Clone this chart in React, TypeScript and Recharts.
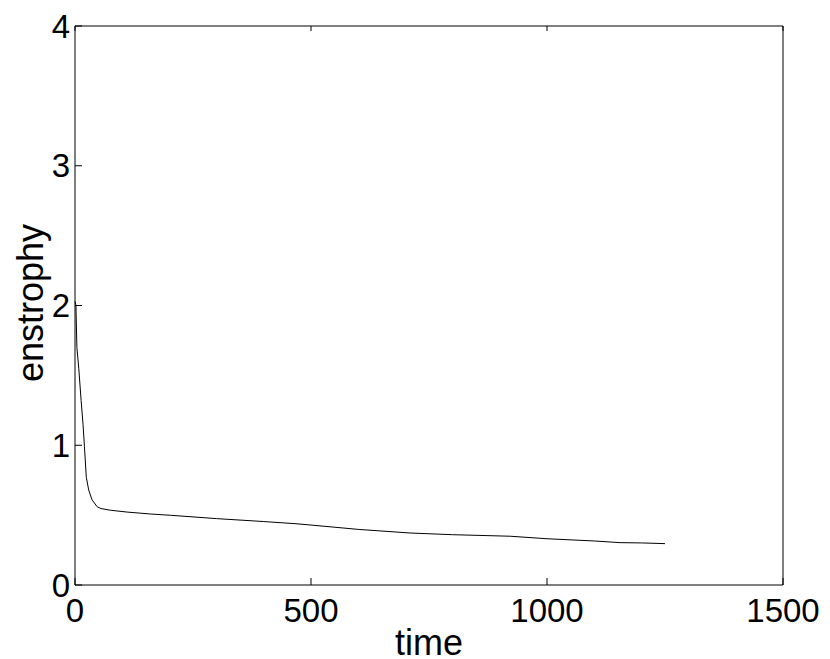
import React from 'react';
import { LineChart, Line, XAxis, YAxis } from 'recharts';

const timeValues = [0, 2, 4, 8, 13, 17, 20, 24, 29, 36, 47, 55, 75, 110, 160, 202, 300, 400, 466, 500, 600, 710, 800, 922, 1000, 1100, 1155, 1200, 1250];
const enstrophyValues = [2.03, 2.0, 1.7, 1.55, 1.32, 1.15, 0.99, 0.77, 0.68, 0.61, 0.56, 0.547, 0.535, 0.522, 0.508, 0.499, 0.475, 0.454, 0.439, 0.429, 0.398, 0.372, 0.36, 0.349, 0.331, 0.315, 0.303, 0.301, 0.296];
const xTicks = [0, 500, 1000, 1500];
const yTicks = [0, 1, 2, 3, 4];

const data = timeValues.map((t, i) => ({ time: t, enstrophy: enstrophyValues[i] }));

const FONT = '"Liberation Sans", Arial, Helvetica, sans-serif';
const TICK_FS = 33;
const LABEL_FS = 36;
const TL = 7;

const LeftTick = (props: any) => {
  const { x, y, payload } = props;
  return (
    <g>
      <text x={x} y={y} dy="0.355em" textAnchor="end" fontSize={TICK_FS} fontFamily={FONT} fill="#000">
        {payload.value}
      </text>
      <line x1={x + 5} x2={x + 5 + TL} y1={y} y2={y} stroke="#000" strokeWidth={1} />
    </g>
  );
};

const BottomTick = (props: any) => {
  const { x, y, payload } = props;
  return (
    <g>
      <text x={x} y={y} dy="0.71em" textAnchor="middle" fontSize={TICK_FS} fontFamily={FONT} fill="#000">
        {payload.value}
      </text>
      <line x1={x} x2={x} y1={y - 14} y2={y - 14 - TL} stroke="#000" strokeWidth={1} />
    </g>
  );
};

const TopTick = (props: any) => {
  const { x } = props;
  return <line x1={x} x2={x} y1={26} y2={26 + 5} stroke="#000" strokeWidth={1} />;
};

const RightTick = (props: any) => {
  const { y } = props;
  return <line x1={783} x2={783 - TL - 1} y1={y} y2={y} stroke="#000" strokeWidth={1} />;
};

export default function App() {
  return (
    <div style={{ position: 'fixed', left: 0, top: 0, width: 830, height: 659, background: '#fff' }}>
      <LineChart width={830} height={659} data={data} margin={{ top: 25, right: 46, bottom: 0, left: 0 }}>
        <XAxis
          dataKey="time"
          type="number"
          domain={[0, 1500]}
          ticks={xTicks}
          height={74}
          tickSize={0}
          tickMargin={14}
          tickLine={false}
          axisLine={{ stroke: '#000', strokeWidth: 1 }}
          tick={<BottomTick />}
          interval={0}
          label={{
            content: () => (
              <text x={429} y={655} textAnchor="middle" fontSize={LABEL_FS} fontFamily={FONT} fill="#000">
                time
              </text>
            ),
          }}
        />
        <XAxis
          xAxisId="top"
          orientation="top"
          dataKey="time"
          type="number"
          domain={[0, 1500]}
          ticks={xTicks}
          height={1}
          tickSize={0}
          tickLine={false}
          axisLine={{ stroke: '#000', strokeWidth: 1 }}
          tick={<TopTick />}
          interval={0}
        />
        <YAxis
          type="number"
          domain={[0, 4]}
          ticks={yTicks}
          width={75}
          tickSize={0}
          tickMargin={5}
          tickLine={false}
          axisLine={{ stroke: '#000', strokeWidth: 1 }}
          tick={<LeftTick />}
          interval={0}
          label={{
            content: () => (
              <text
                x={0}
                y={0}
                transform="translate(43, 303) rotate(-90)"
                textAnchor="middle"
                fontSize={LABEL_FS}
                fontFamily={FONT}
                fill="#000"
              >
                enstrophy
              </text>
            ),
          }}
        />
        <YAxis
          yAxisId="right"
          orientation="right"
          type="number"
          domain={[0, 4]}
          ticks={yTicks}
          width={1}
          tickSize={0}
          tickLine={false}
          axisLine={{ stroke: '#000', strokeWidth: 1 }}
          tick={<RightTick />}
          interval={0}
        />
        <Line
          type="linear"
          dataKey="enstrophy"
          stroke="#000"
          strokeWidth={1}
          dot={false}
          isAnimationActive={false}
        />
      </LineChart>
    </div>
  );
}
